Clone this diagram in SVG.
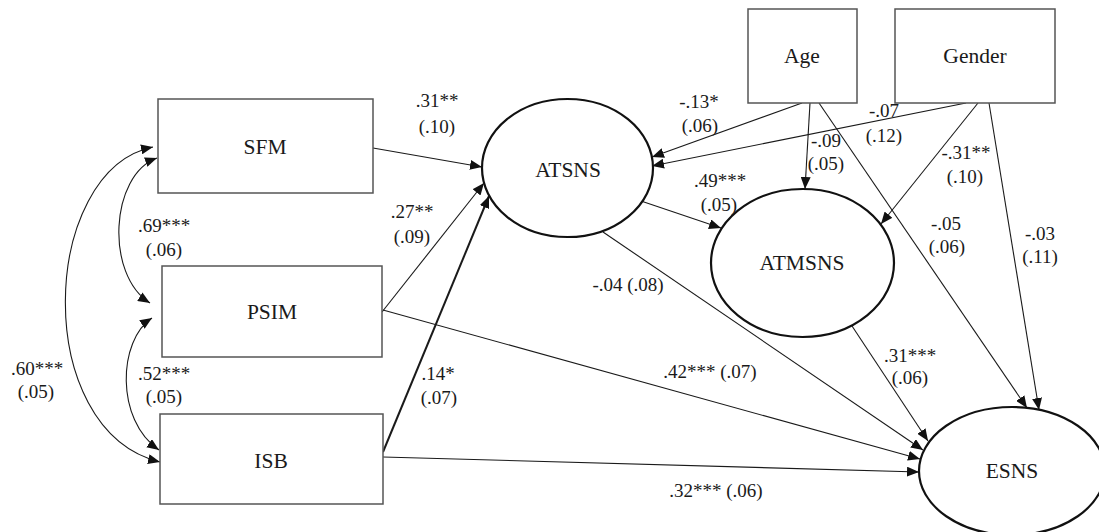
<svg xmlns="http://www.w3.org/2000/svg" width="1099" height="532" viewBox="0 0 1099 532" font-family="Liberation Serif, Times New Roman, Times, serif">
<style>
.box{fill:#fff;stroke:#555;stroke-width:1.5}
.ell{fill:#fff;stroke:#111;stroke-width:2.2}
.nt{font-size:21.5px;fill:#1a1a1a;text-anchor:middle;dominant-baseline:central}
.lb{font-size:19px;fill:#1a1a1a;text-anchor:middle}
.c{fill:none;stroke:#1a1a1a;stroke-width:1.1;marker-end:url(#ah)}
.cb{fill:none;stroke:#1a1a1a;stroke-width:1.1;marker-start:url(#ah);marker-end:url(#ah)}
</style>
<defs>
<marker id="ah" markerUnits="userSpaceOnUse" markerWidth="12" markerHeight="10" refX="12" refY="5" orient="auto-start-reverse" viewBox="0 0 12 10">
<path d="M0 0 L12 5 L0 10 z" fill="#111"/>
</marker>
</defs>
<rect width="1099" height="532" fill="#fff"/>
<g id="connectors">
<path class="cb" d="M153 147 C40 170 30 430 160 462"/>
<path class="cb" d="M157 158 C110 175 105 275 150 303"/>
<path class="cb" d="M152 318 C118 340 115 420 159 450"/>
<path class="c" d="M373 148 L482 167"/>
<path class="c" d="M382 312 L484 183"/>
<path class="c" d="M383 452 L489 196" style="stroke-width:2"/>
<path class="c" d="M383 310 L920 459"/>
<path class="c" d="M383 457 L919 472"/>
<path class="c" d="M603 232 L923 450"/>
<path class="c" d="M641 201 L721 228"/>
<path class="c" d="M852 326 L928 441"/>
<path class="c" d="M802 103 L652 157"/>
<path class="c" d="M966 103 L652 166"/>
<path class="c" d="M810 103 L805 189"/>
<path class="c" d="M978 103 L881 224"/>
<path class="c" d="M819 103 L1027 408"/>
<path class="c" d="M989 103 L1039 410"/>
</g>
<g id="SFM"><rect class="box" x="158" y="99" width="215" height="94"/><text class="nt" x="265" y="147" font-family="Liberation Serif, serif">SFM</text></g>
<g id="PSIM"><rect class="box" x="162" y="266" width="220" height="91"/><text class="nt" x="272" y="312">PSIM</text></g>
<g id="ISB"><rect class="box" x="160" y="414" width="223" height="90"/><text class="nt" x="271" y="461">ISB</text></g>
<g id="Age"><rect class="box" x="748" y="9" width="109" height="94"/><text class="nt" x="802" y="56">Age</text></g>
<g id="Gender"><rect class="box" x="895" y="9" width="160" height="94"/><text class="nt" x="975" y="56">Gender</text></g>
<g id="ATSNS"><ellipse class="ell" cx="567.5" cy="168" rx="85.5" ry="69"/><text class="nt" x="568" y="170">ATSNS</text></g>
<g id="ATMSNS"><ellipse class="ell" cx="802.5" cy="263" rx="91.5" ry="74"/><text class="nt" x="802" y="263">ATMSNS</text></g>
<g id="ESNS"><ellipse class="ell" cx="1012" cy="471" rx="93" ry="64"/><text class="nt" x="1012" y="471">ESNS</text></g>
<g id="labels">
<text class="lb" x="437" y="107">.31**</text><text class="lb" x="437" y="133">(.10)</text>
<text class="lb" x="412" y="218">.27**</text><text class="lb" x="412" y="243">(.09)</text>
<text class="lb" x="164" y="232">.69***</text><text class="lb" x="164" y="256">(.06)</text>
<text class="lb" x="37" y="375">.60***</text><text class="lb" x="36" y="398">(.05)</text>
<text class="lb" x="164" y="380">.52***</text><text class="lb" x="164" y="403">(.05)</text>
<text class="lb" x="438" y="380">.14*</text><text class="lb" x="439" y="404">(.07)</text>
<text class="lb" x="628" y="291">-.04 (.08)</text>
<text class="lb" x="710" y="378">.42*** (.07)</text>
<text class="lb" x="716" y="497">.32*** (.06)</text>
<text class="lb" x="910" y="362">.31***</text><text class="lb" x="910" y="384">(.06)</text>
<text class="lb" x="699" y="108">-.13*</text><text class="lb" x="700" y="132">(.06)</text>
<text class="lb" x="884" y="117">-.07</text><text class="lb" x="884" y="142">(.12)</text>
<text class="lb" x="826" y="147">-.09</text><text class="lb" x="826" y="170">(.05)</text>
<text class="lb" x="720" y="187">.49***</text><text class="lb" x="719" y="211">(.05)</text>
<text class="lb" x="966" y="159">-.31**</text><text class="lb" x="965" y="183">(.10)</text>
<text class="lb" x="946" y="230">-.05</text><text class="lb" x="947" y="253">(.06)</text>
<text class="lb" x="1040" y="240">-.03</text><text class="lb" x="1040" y="263">(.11)</text>
</g>
</svg>
